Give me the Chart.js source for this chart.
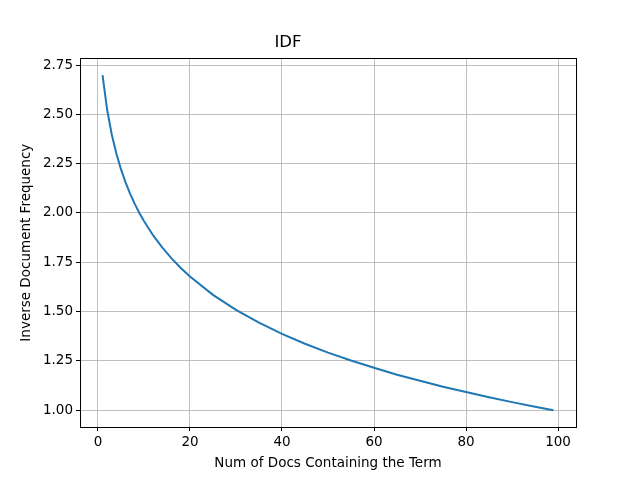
<!DOCTYPE html>
<html>
<head>
<meta charset="utf-8">
<script src="https://cdn.jsdelivr.net/npm/chart.js@4/dist/chart.umd.min.js"></script>
<style>
html,body{margin:0;padding:0;background:#fff;}
#wrap{width:640px;height:480px;}
</style>
</head>
<body>
<div id="wrap"><canvas id="c" width="640" height="480"></canvas></div>
<script>
const docCounts = [1,2,3,4,5,6,7,8,9,10,12,14,16,18,20,25,30,35,40,45,50,55,60,65,70,75,80,85,90,95,99];
const idfValues = [2.699,2.523,2.398,2.301,2.222,2.155,2.097,2.046,2.000,1.959,1.886,1.824,1.770,1.721,1.678,1.585,1.509,1.444,1.387,1.337,1.292,1.252,1.215,1.180,1.149,1.119,1.092,1.066,1.041,1.018,1.000];
const xTicks = [0,20,40,60,80,100];
const yTicks = [1.00,1.25,1.50,1.75,2.00,2.25,2.50,2.75];

const font = "'DejaVu Sans', sans-serif";

const framePlugin = {
  id: 'frame',
  afterDraw(chart) {
    const a = chart.chartArea, ctx = chart.ctx;
    ctx.save();
    ctx.strokeStyle = '#000';
    ctx.lineWidth = 1;
    ctx.strokeRect(Math.round(a.left) + 0.5, Math.round(a.top) + 0.5, Math.round(a.right - a.left), Math.round(a.bottom - a.top));
    ctx.restore();
  }
};

new Chart(document.getElementById('c'), {
  type: 'line',
  data: {
    datasets: [{
      data: docCounts.map((x, i) => ({x: x, y: idfValues[i]})),
      borderColor: '#1f77b4',
      borderWidth: 2,
      pointRadius: 0,
      fill: false,
      tension: 0
    }]
  },
  options: {
    responsive: false,
    animation: false,
    devicePixelRatio: 1,
    layout: {padding: {left: 0, right: 64, top: 0, bottom: 0}},
    plugins: {
      legend: {display: false},
      tooltip: {enabled: false},
      title: {
        display: true,
        text: 'IDF',
        color: '#000',
        font: {family: font, size: 16.5, weight: 'normal'},
        padding: {top: 32.5, bottom: 6}
      }
    },
    scales: {
      x: {
        type: 'linear',
        min: -3.9,
        max: 103.9,
        afterBuildTicks(scale) { scale.ticks = xTicks.map(v => ({value: v})); },
        afterFit(scale) { scale.height = 53; },
        ticks: {color: '#000', font: {family: font, size: 13.5}, padding: 3, maxRotation: 0, callback: v => String(v)},
        grid: {color: '#b0b0b0', lineWidth: 0.8, tickColor: '#000', tickLength: 4, tickWidth: 1},
        border: {color: '#000', width: 1},
        title: {display: true, text: 'Num of Docs Containing the Term', color: '#000', font: {family: font, size: 13.5}, padding: {top: 0, bottom: 8}}
      },
      y: {
        type: 'linear',
        min: 0.915,
        max: 2.784,
        afterBuildTicks(scale) { scale.ticks = yTicks.map(v => ({value: v})); },
        afterFit(scale) { scale.width = 80; },
        ticks: {color: '#000', font: {family: font, size: 13.5}, padding: 3, callback: v => Number(v).toFixed(2)},
        grid: {color: '#b0b0b0', lineWidth: 0.8, tickColor: '#000', tickLength: 4, tickWidth: 1},
        border: {color: '#000', width: 1},
        title: {display: true, text: 'Inverse Document Frequency', color: '#000', font: {family: font, size: 13.5}, padding: {top: 18, bottom: 0}}
      }
    }
  },
  plugins: [framePlugin]
});
</script>
</body>
</html>
